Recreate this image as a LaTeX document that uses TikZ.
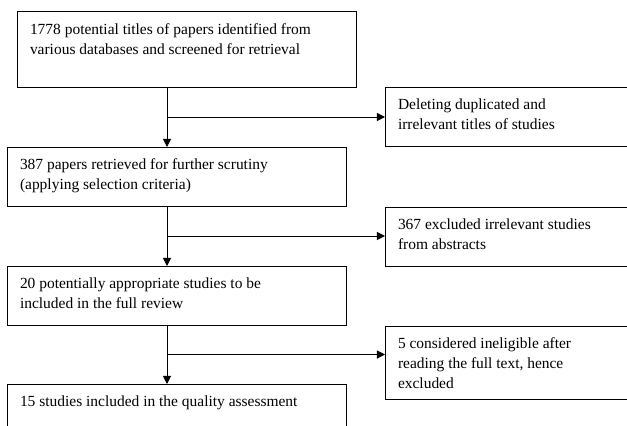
\documentclass[tikz,border=0pt]{standalone}
\usepackage{fontspec}
\setmainfont{Liberation Serif}
\usetikzlibrary{arrows.meta,calc}

\tikzstyle{stage} = [draw, anchor=north west, line width=0.85pt, inner xsep=0.39cm, inner ysep=0.25cm, outer sep=0pt, font=\fontsize{13.2pt}{17pt}\selectfont]
\tikzstyle{flow} = [line width=0.85pt, -{Triangle[length=7pt,width=7pt]}]

\newcommand{\boxtext}[3]{\parbox[t][#1][t]{#2}{\raggedright\strut #3}}

\begin{document}
\begin{tikzpicture}[x=0.03cm,y=-0.03cm]
	\useasboundingbox (0,0) rectangle (627,425);
	\clip (0,0) rectangle (627,425);
	
	\node[stage] (b1) at (17,12) {\boxtext{1.75cm}{9.39cm}{1778 potential titles of papers identified from\\ various databases and screened for retrieval}};
	\node[stage] (b2) at (7,147) {\boxtext{1.27cm}{9.39cm}{387 papers retrieved for further scrutiny\\ (applying selection criteria)}};
	\node[stage] (b3) at (7,266) {\boxtext{1.27cm}{9.39cm}{20 potentially appropriate studies to be\\ included in the full review}};
	\node[stage] (b4) at (7,384) {\boxtext{1.27cm}{9.39cm}{15 studies included in the quality assessment}};
	
	\node[stage] (s1) at (385,87) {\boxtext{1.27cm}{9cm}{Deleting duplicated and\\ irrelevant titles of studies}};
	\node[stage] (s2) at (385,207) {\boxtext{1.27cm}{9cm}{367 excluded irrelevant studies\\ from abstracts}};
	\node[stage] (s3) at (385,326) {\boxtext{1.69cm}{9cm}{5 considered ineligible after\\ reading the full text, hence\\ excluded}};
	
	\coordinate (trunk) at (167,0);
	\coordinate (j1) at ($(b1.south -| trunk)!0.5!(b2.north -| trunk)$);
	\coordinate (j2) at ($(b2.south -| trunk)!0.5!(b3.north -| trunk)$);
	\coordinate (j3) at ($(b3.south -| trunk)!0.5!(b4.north -| trunk)$);
	
	\draw[flow] (b1.south -| trunk) -- (b2.north -| trunk);
	\draw[flow] (b2.south -| trunk) -- (b3.north -| trunk);
	\draw[flow] (b3.south -| trunk) -- (b4.north -| trunk);
	
	\draw[flow] (j1) -- (j1 -| s1.west);
	\draw[flow] (j2) -- (j2 -| s2.west);
	\draw[flow] (j3) -- (j3 -| s3.west);
\end{tikzpicture}
\end{document}
